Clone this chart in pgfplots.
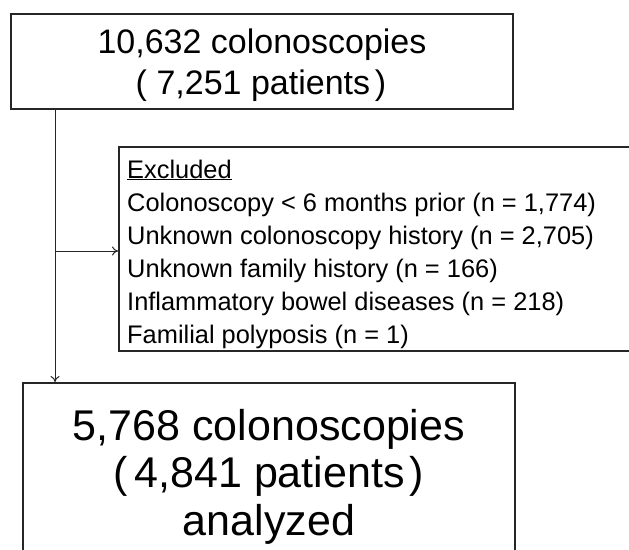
\documentclass[border=0pt]{standalone}
\usepackage{pgfplots}
\pgfplotsset{compat=1.18}
\usetikzlibrary{arrows.meta}
\usepackage{fontspec}
\setmainfont{Liberation Sans}
\begin{document}
\begin{tikzpicture}
\begin{axis}[name=ax, scale only axis, width=629pt, height=549pt,
  xmin=0, xmax=629, ymin=0, ymax=549, y dir=reverse, hide axis, clip=true]
% boxes
\draw[line width=2pt, black!85] (axis cs:11,14) rectangle (axis cs:513,109);
\draw[line width=2pt, black!85] (axis cs:119,147) rectangle (axis cs:650,351);
\draw[line width=2pt, black!85] (axis cs:23,383) rectangle (axis cs:515,580);
% connectors
\draw[line width=1pt, black!85, -{To[length=6pt,width=9pt]}] (axis cs:55,110) -- (axis cs:55,382);
\draw[line width=1pt, black!85, -{To[length=6pt,width=9pt]}] (axis cs:55,251) -- (axis cs:118,251);
% top box text
\node[anchor=base, inner sep=0pt, font=\fontsize{34pt}{40pt}\selectfont] at (axis cs:262,53) {10,632 colonoscopies};
\node[anchor=base, inner sep=0pt, font=\fontsize{34pt}{40pt}\selectfont] at (axis cs:261,94) {(\hspace{0.28em}7,251 patients\hspace{0.14em})};
% excluded text
\begin{scope}[every node/.style={anchor=base west, inner sep=0pt, font=\fontsize{25.4pt}{30pt}\selectfont}]
\node at (axis cs:127,178) {\underline{Excluded}};
\node at (axis cs:127,211) {Colonoscopy < 6 months prior (n = 1,774)};
\node at (axis cs:127,244) {Unknown colonoscopy history (n = 2,705)};
\node at (axis cs:127,277) {Unknown family history (n = 166)};
\node at (axis cs:127,310) {Inflammatory bowel diseases (n = 218)};
\node at (axis cs:127,343) {Familial polyposis (n = 1)};
\end{scope}
% bottom box text
\node[anchor=base, inner sep=0pt, font=\fontsize{43pt}{48pt}\selectfont] at (axis cs:269,440) {5,768 colonoscopies};
\node[anchor=base, inner sep=0pt, font=\fontsize{43pt}{48pt}\selectfont] at (axis cs:269,487) {(\hspace{0.15em}4,841 patients\hspace{0.12em})};
\node[anchor=base, inner sep=0pt, font=\fontsize{43pt}{48pt}\selectfont] at (axis cs:269,535) {analyzed};
\end{axis}
\pgfresetboundingbox
\useasboundingbox (ax.south west) rectangle (ax.north east);
\end{tikzpicture}
\end{document}
